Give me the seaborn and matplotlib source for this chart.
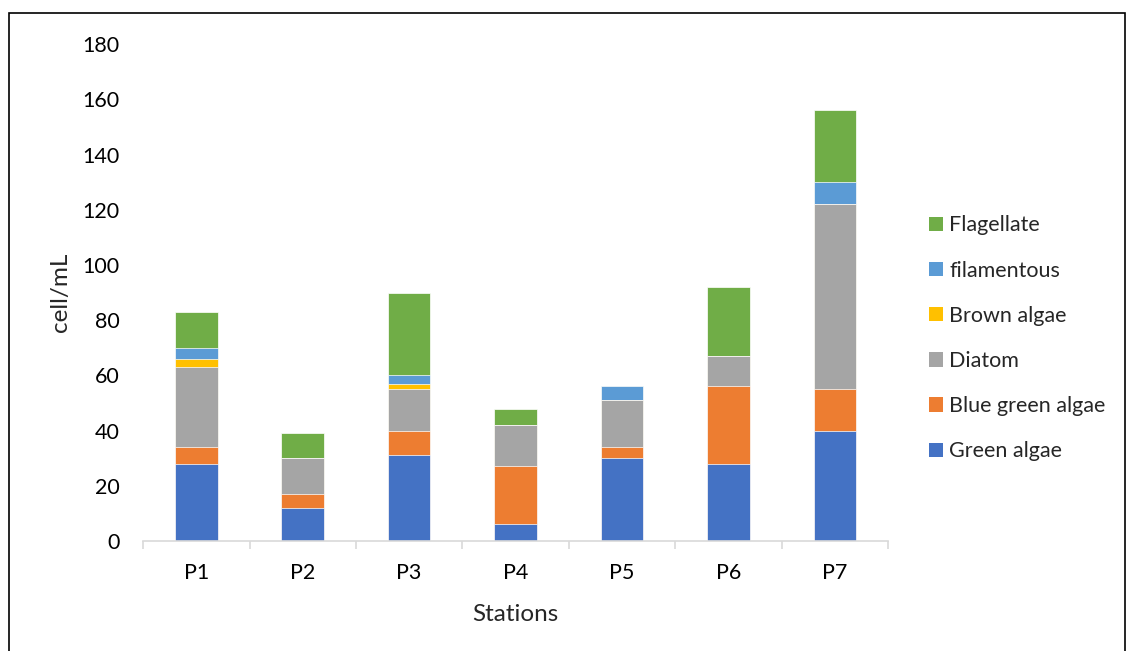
import numpy as np
import pandas as pd
import seaborn as sns
import matplotlib.pyplot as plt
from matplotlib.patches import Patch, Rectangle

# Phytoplankton density per sampling station (cell/mL)
stations = ["P1", "P2", "P3", "P4", "P5", "P6", "P7"]
green_algae = [28, 12, 31, 6, 30, 28, 40]
blue_green_algae = [6, 5, 9, 21, 4, 28, 15]
diatom = [29, 13, 15, 15, 17, 11, 67]
brown_algae = [3, 0, 2, 0, 0, 0, 0]
filamentous = [4, 0, 3, 0, 5, 0, 8]
flagellate = [13, 9, 30, 6, 0, 25, 26]

groups = ["Green algae", "Blue green algae", "Diatom", "Brown algae",
          "filamentous", "Flagellate"]
series = [green_algae, blue_green_algae, diatom, brown_algae, filamentous, flagellate]
colors = ["#4472C4", "#ED7D31", "#A5A5A5", "#FFC000", "#5B9BD5", "#70AD47"]

sns.set_theme(style="white")
plt.rcParams["font.family"] = ["Lato", "DejaVu Sans"]

fig = plt.figure(figsize=(11.27, 6.51), dpi=100)
ax = fig.add_axes([0.127, 0.169, 0.661, 0.763])

# Stacked bars: draw cumulative totals from the top layer down
cum = np.cumsum(np.array(series), axis=0)
for i in range(len(groups) - 1, -1, -1):
    df = pd.DataFrame({"station": stations, "value": cum[i]})
    sns.barplot(data=df, x="station", y="value", color=colors[i], width=0.4,
                saturation=1, edgecolor="white", linewidth=0.5, ax=ax)

ax.set_ylim(0, 180)
ax.set_yticks(np.arange(0, 181, 20))
ax.set_xlim(-0.5, len(stations) - 0.5)

for side in ["top", "right", "left"]:
    ax.spines[side].set_visible(False)
ax.spines["bottom"].set_color("#D9D9D9")
ax.spines["bottom"].set_linewidth(1.2)

ax.tick_params(axis="y", length=0, pad=17, labelsize=15.5, labelcolor="#000000")
ax.tick_params(axis="x", which="major", length=0, pad=16, labelsize=15.5,
               labelcolor="#000000")
ax.set_xticks(np.arange(-0.5, len(stations), 1.0), minor=True)
ax.tick_params(axis="x", which="minor", length=6, width=1.2, color="#D9D9D9",
               bottom=True)

ax.set_xlabel("Stations", fontsize=17.5, labelpad=15)
ax.set_ylabel("cell/mL", fontsize=17.5, labelpad=8)

handles = [Patch(facecolor=c, edgecolor="none") for c in colors]
leg = ax.legend(handles[::-1], groups[::-1], loc="center left",
                bbox_to_anchor=(1.055, 0.408), frameon=False, fontsize=15.5,
                borderpad=0, borderaxespad=0,
                handlelength=0.65, handleheight=0.65, handletextpad=0.3,
                labelspacing=1.17)

# Figure border
fig.add_artist(Rectangle((9 / 1127, -0.02), 1116 / 1127, 1.02 - 13 / 651,
                         transform=fig.transFigure, fill=False,
                         edgecolor="black", linewidth=1.2))

fig.savefig("out.png", dpi=100)
